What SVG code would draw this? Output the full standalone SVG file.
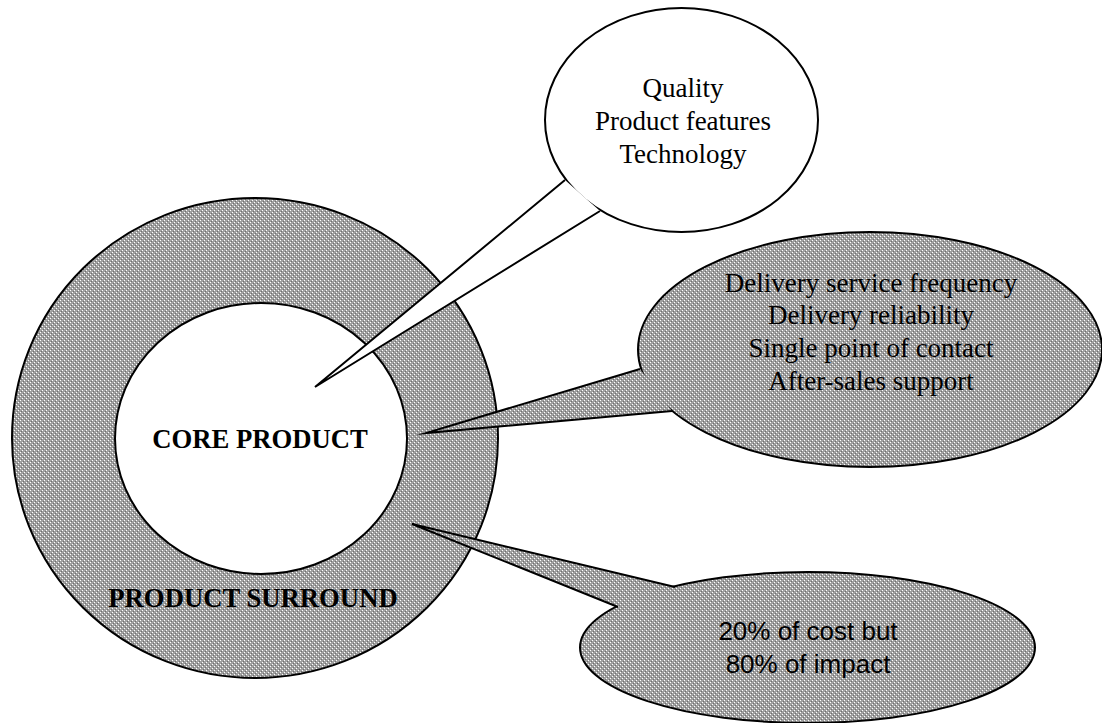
<svg xmlns="http://www.w3.org/2000/svg" width="1102" height="723" viewBox="0 0 1102 723">
  <defs>
    <!-- halftone grey used for the product surround and shaded callouts -->
    <pattern id="halftone" width="4" height="4" patternUnits="userSpaceOnUse">
      <rect width="4" height="4" fill="#a0a0a0"/>
      <rect x="0" y="0" width="1" height="1" fill="#ffffff"/>
      <rect x="2" y="2" width="1" height="1" fill="#ffffff"/>
      <rect x="1" y="3" width="1" height="1" fill="#707070"/>
      <rect x="3" y="1" width="1" height="1" fill="#707070"/>
    </pattern>
    <style>
      .outline { stroke: #000; stroke-width: 2; }
      .shaded { fill: url(#halftone); }
      .plain { fill: #fff; }
      .pointer { stroke: #000; stroke-width: 2; stroke-linejoin: miter; stroke-miterlimit: 10; }
      .serif { font-family: "Liberation Serif", "Times New Roman", serif; font-size: 27px; fill: #000; text-anchor: middle; }
      .bold { font-weight: bold; font-size: 26.7px; }
      .sans { font-family: "Liberation Sans", Arial, sans-serif; font-size: 26px; fill: #000; text-anchor: middle; }
    </style>
  </defs>

  <rect width="1102" height="723" fill="#fff"/>

  <!-- outer ring -->
  <g id="product-surround">
    <ellipse class="shaded outline" cx="255" cy="438" rx="243" ry="240"/>
    <text class="serif bold" x="253" y="607">PRODUCT SURROUND</text>
  </g>

  <!-- inner core -->
  <g id="core-product">
    <ellipse class="plain outline" cx="261" cy="438.5" rx="146" ry="135.5"/>
    <text class="serif bold" x="260" y="448">CORE PRODUCT</text>
  </g>

  <!-- callout bubbles -->
  <g id="callout-core">
    <ellipse class="plain outline" cx="681.5" cy="120" rx="136.5" ry="112"/>
    <text class="serif" x="683" y="97">Quality</text>
    <text class="serif" x="683" y="130">Product features</text>
    <text class="serif" x="683" y="163">Technology</text>
  </g>

  <g id="callout-service">
    <ellipse class="shaded outline" cx="870" cy="349.5" rx="232" ry="117.5"/>
    <text class="serif" x="871" y="292">Delivery service frequency</text>
    <text class="serif" x="871" y="324">Delivery reliability</text>
    <text class="serif" x="871" y="357">Single point of contact</text>
    <text class="serif" x="871" y="390">After-sales support</text>
  </g>

  <g id="callout-impact">
    <ellipse class="shaded outline" cx="807.5" cy="647.5" rx="227.5" ry="75.5"/>
    <text class="sans" x="808" y="640">20% of cost but</text>
    <text class="sans" x="808" y="673">80% of impact</text>
  </g>

  <!-- wedge pointers from each bubble into the rings -->
  <g id="connectors">
    <path class="plain pointer" d="M565,180 L315,387 L600,211"/>
    <path class="shaded pointer" d="M640,369 L426,433 L672,411"/>
    <path class="shaded pointer" d="M675,587 L412,524 L618,607"/>
  </g>
</svg>
